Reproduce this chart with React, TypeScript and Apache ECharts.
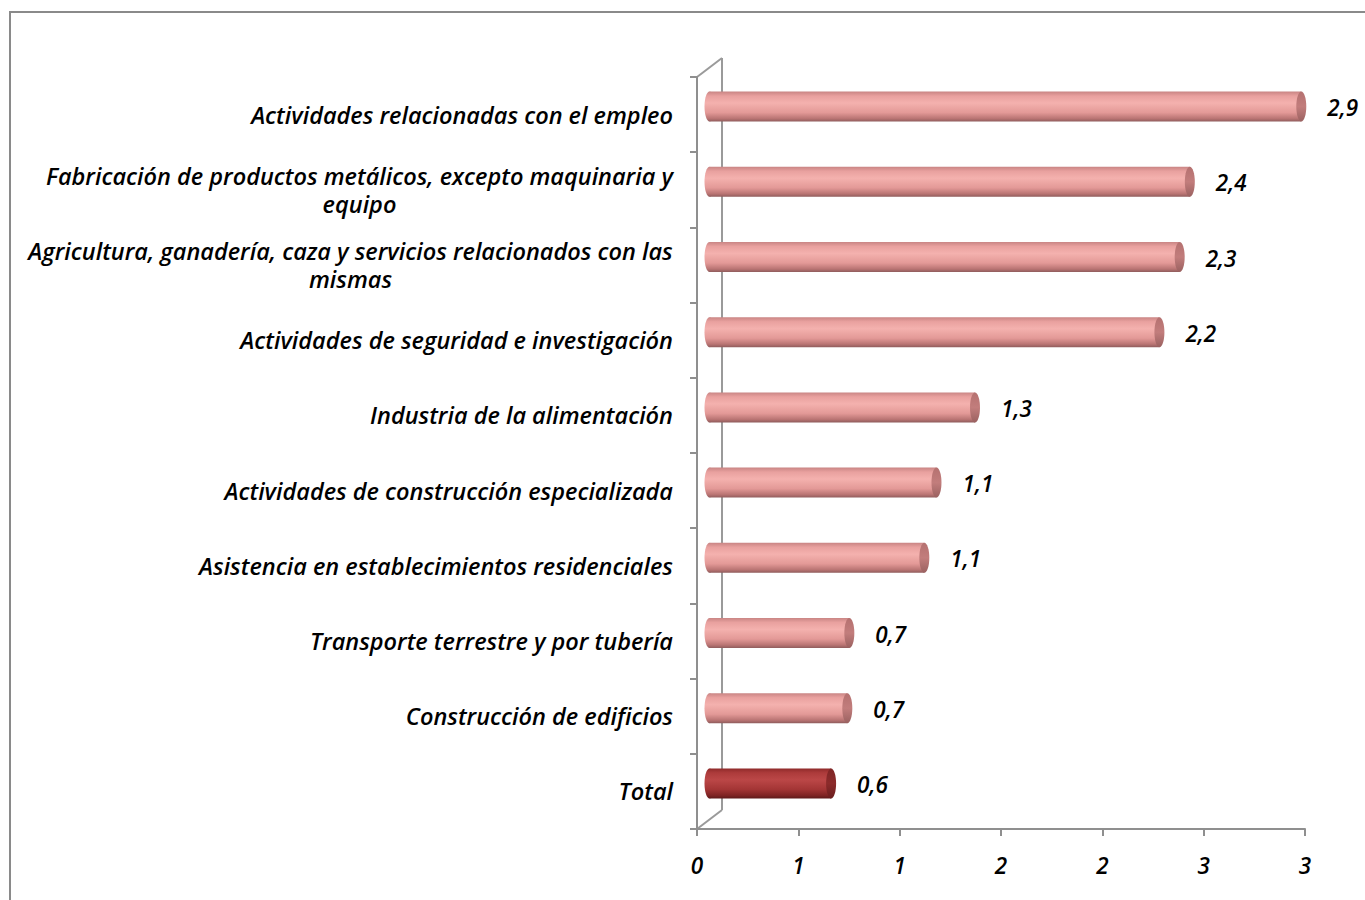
import React, { useEffect, useRef } from 'react';
import * as echarts from 'echarts';

// ---- data (top to bottom) ----
const categories: string[] = [
  'Actividades relacionadas con el empleo',
  'Fabricación de productos metálicos, excepto maquinaria y\nequipo',
  'Agricultura, ganadería, caza y servicios relacionados con las\nmismas',
  'Actividades de seguridad e investigación',
  'Industria de la alimentación',
  'Actividades de construcción especializada',
  'Asistencia en establecimientos residenciales',
  'Transporte terrestre y por tubería',
  'Construcción de edificios',
  'Total',
];
const values: number[] = [2.92, 2.37, 2.32, 2.22, 1.31, 1.12, 1.06, 0.69, 0.68, 0.6];
const highlighted: string[] = ['Total'];
const xTicks: number[] = [0, 0.5, 1, 1.5, 2, 2.5, 3];

// ---- layout/style ----
const W = 1365;
const H = 900;
const GL = 697;
const GR = 1305;
const GT = 77;
const GB = 829;
const DEPTH_X = 25;
const DEPTH_Y = -19;
const FONT_FAMILY = '"Open Sans", "Noto Sans", "DejaVu Sans", sans-serif';
const CAT_FONT_SIZE = 23.5;
const NUM_FONT_SIZE = 22.5;
const FONT_WEIGHT = 600;
const LINE_H = 28.5;

const pinkGrad = () =>
  new echarts.graphic.LinearGradient(0, 0, 0, 1, [
    { offset: 0, color: '#c98584' },
    { offset: 0.15, color: '#e9a19f' },
    { offset: 0.38, color: '#f4b1ae' },
    { offset: 0.7, color: '#e39997' },
    { offset: 0.9, color: '#b97473' },
    { offset: 1, color: '#8f5c5c' },
  ]);
const pinkCap = () =>
  new echarts.graphic.LinearGradient(0, 0, 0, 1, [
    { offset: 0, color: '#b57170' },
    { offset: 0.5, color: '#c27d7c' },
    { offset: 1, color: '#9a6160' },
  ]);
const redGrad = () =>
  new echarts.graphic.LinearGradient(0, 0, 0, 1, [
    { offset: 0, color: '#8f2a2a' },
    { offset: 0.15, color: '#ad3b3b' },
    { offset: 0.38, color: '#bb4747' },
    { offset: 0.7, color: '#a33535' },
    { offset: 0.9, color: '#7f2424' },
    { offset: 1, color: '#5e1a1a' },
  ]);
const redCap = () =>
  new echarts.graphic.LinearGradient(0, 0, 0, 1, [
    { offset: 0, color: '#7e2525' },
    { offset: 0.5, color: '#8c2b2b' },
    { offset: 1, color: '#6a1e1e' },
  ]);

function measure(text: string): number {
  const c = document.createElement('canvas').getContext('2d');
  if (!c) return text.length * 10;
  c.font = `italic ${FONT_WEIGHT} ${CAT_FONT_SIZE}px ${FONT_FAMILY}`;
  return c.measureText(text).width;
}

export default function App() {
  const ref = useRef<HTMLDivElement>(null);

  useEffect(() => {
    if (!ref.current) return;
    const chart = echarts.init(ref.current, undefined, { renderer: 'svg' });

    const rich: Record<string, any> = {};
    categories.forEach((c, i) => {
      const lines = c.split('\n');
      if (lines.length > 1) {
        rich['w' + i] = {
          width: Math.ceil(measure(lines[0])),
          align: 'center',
          fontFamily: FONT_FAMILY,
          fontSize: CAT_FONT_SIZE,
          fontStyle: 'italic',
          fontWeight: FONT_WEIGHT,
          color: '#000',
          lineHeight: LINE_H,
        };
      }
    });

    const option: any = {
      animation: false,
      backgroundColor: '#ffffff',
      grid: { left: GL, right: W - GR, top: GT, bottom: H - GB, containLabel: false },
      xAxis: {
        type: 'value',
        min: xTicks[0],
        max: xTicks[xTicks.length - 1],
        interval: xTicks[1] - xTicks[0],
        axisLine: { show: true, lineStyle: { color: '#8f8f8f', width: 2 } },
        axisTick: { show: true, length: 7, lineStyle: { color: '#8f8f8f', width: 2 } },
        splitLine: { show: false },
        axisLabel: {
          margin: 25,
          formatter: (v: number) => String(Math.round(v)),
          fontFamily: FONT_FAMILY,
          fontSize: NUM_FONT_SIZE,
          fontStyle: 'italic',
          fontWeight: FONT_WEIGHT,
          color: '#000',
        },
      },
      yAxis: {
        type: 'category',
        inverse: true,
        data: categories,
        axisLine: { show: true, lineStyle: { color: '#8f8f8f', width: 2 } },
        axisTick: { show: true, length: 7, lineStyle: { color: '#8f8f8f', width: 2 } },
        axisLabel: {
          margin: 24,
          fontFamily: FONT_FAMILY,
          fontSize: CAT_FONT_SIZE,
          fontStyle: 'italic',
          fontWeight: FONT_WEIGHT,
          color: '#000',
          lineHeight: LINE_H,
          formatter: (val: string, idx: number) => {
            const lines = val.split('\n');
            if (lines.length === 1) return val;
            return lines.map((l) => `{w${idx}|${l}}`).join('\n');
          },
          rich,
        },
      },
      graphic: [
        {
          type: 'rect',
          shape: { x: 10, y: 12, width: 1500, height: 1000 },
          style: { fill: 'none', stroke: '#8a8a8a', lineWidth: 2 },
          silent: true,
        },
        {
          type: 'line',
          shape: { x1: GL + DEPTH_X, y1: GT + DEPTH_Y, x2: GL + DEPTH_X, y2: GB + DEPTH_Y },
          style: { stroke: '#9a9a9a', lineWidth: 2 },
          silent: true,
        },
        {
          type: 'line',
          shape: { x1: GL, y1: GT, x2: GL + DEPTH_X, y2: GT + DEPTH_Y },
          style: { stroke: '#9a9a9a', lineWidth: 2 },
          silent: true,
        },
        {
          type: 'line',
          shape: { x1: GL, y1: GB, x2: GL + DEPTH_X, y2: GB + DEPTH_Y },
          style: { stroke: '#9a9a9a', lineWidth: 2 },
          silent: true,
        },
      ],
      series: [
        {
          type: 'custom',
          clip: false,
          encode: { x: 0, y: 1 },
          data: values.map((v, i) => [v, i]),
          renderItem: (params: any, api: any) => {
            const v = api.value(0);
            const i = api.value(1);
            const p0 = api.coord([0, i]);
            const p1 = api.coord([v, i]);
            const dx = DEPTH_X / 2;
            const dy = DEPTH_Y / 2 + 1.5;
            const x0 = p0[0] + dx;
            const x1 = p1[0] + dx;
            const cy = p0[1] + dy;
            const ry = 15;
            const rx = 5;
            const isHi = highlighted.indexOf(categories[i]) >= 0;
            const body = isHi ? redGrad() : pinkGrad();
            const cap = isHi ? redCap() : pinkCap();
            const label = v.toFixed(1).replace('.', ',');
            return {
              type: 'group',
              children: [
                {
                  type: 'ellipse',
                  shape: { cx: x0, cy, rx, ry },
                  style: { fill: body },
                },
                {
                  type: 'rect',
                  shape: { x: x0, y: cy - ry, width: x1 - x0, height: ry * 2 },
                  style: { fill: body },
                },
                {
                  type: 'ellipse',
                  shape: { cx: x1, cy, rx, ry },
                  style: { fill: cap },
                },
                {
                  type: 'text',
                  x: x1 + 26,
                  y: cy + 1,
                  style: {
                    text: label,
                    fill: '#000',
                    fontFamily: FONT_FAMILY,
                    fontSize: NUM_FONT_SIZE,
                    fontStyle: 'italic',
                    fontWeight: FONT_WEIGHT,
                    align: 'left',
                    verticalAlign: 'middle',
                  },
                },
              ],
            };
          },
        },
      ],
    };

    chart.setOption(option);
    return () => chart.dispose();
  }, []);

  return (
    <div
      ref={ref}
      style={{ position: 'fixed', left: 0, top: 0, width: W, height: H, background: '#fff' }}
    />
  );
}
